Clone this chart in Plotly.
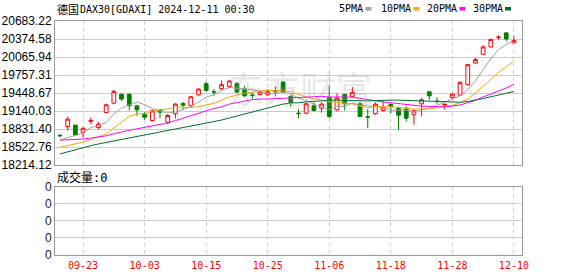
import plotly.graph_objects as go

# ---------------- data ----------------
dates = ["09-18", "09-19", "09-20", "09-23", "09-24", "09-25", "09-26", "09-27", "09-30",
         "10-01", "10-02", "10-03", "10-04", "10-07", "10-08", "10-09", "10-10", "10-11",
         "10-14", "10-15", "10-16", "10-17", "10-18", "10-21", "10-22", "10-23", "10-24",
         "10-25", "10-28", "10-29", "10-30", "10-31", "11-01", "11-04", "11-05", "11-06",
         "11-07", "11-08", "11-11", "11-12", "11-13", "11-14", "11-15", "11-18", "11-19",
         "11-20", "11-21", "11-22", "11-25", "11-26", "11-27", "11-28", "11-29", "12-02",
         "12-03", "12-04", "12-05", "12-06", "12-09", "12-10"]

opens = [18722, 18874, 18897, 18776, 18965, 18857, 19115, 19275, 19424, 19424,
         19229, 19086, 18977, 19149, 18948, 19092, 19269, 19229, 19419, 19608,
         19470, 19522, 19562, 19608, 19516, 19412, 19424, 19418, 19478, 19636,
         19390, 19103, 19103, 19229, 19189, 19373, 19160, 19424, 19390, 19264,
         19040, 19092, 19149, 19252, 19183, 19172, 19074, 19264, 19470, 19309,
         19242, 19373, 19413, 19591, 19963, 20113, 20239, 20400, 20480, 20308]
highs = [18748, 19046, 18905, 18857, 19028, 18954, 19264, 19505, 19447, 19447,
         19246, 19120, 19160, 19160, 19086, 19275, 19293, 19395, 19533, 19648,
         19516, 19665, 19677, 19636, 19573, 19458, 19487, 19516, 19562, 19648,
         19419, 19172, 19287, 19287, 19287, 19573, 19442, 19436, 19550, 19304,
         19172, 19287, 19304, 19275, 19218, 19218, 19172, 19361, 19475, 19378,
         19275, 19447, 19648, 19946, 20049, 20267, 20382, 20439, 20485, 20422]
lows = [18690, 18805, 18722, 18685, 18914, 18828, 19103, 19258, 19315, 19149,
        19057, 18988, 18960, 19017, 18920, 19011, 19160, 19217, 19402, 19476,
        19402, 19493, 19545, 19447, 19378, 19344, 19418, 19401, 19402, 19459,
        19206, 19017, 19086, 19132, 19115, 19017, 19132, 19149, 19378, 19034,
        18845, 19074, 19132, 19103, 18816, 18960, 18903, 19046, 19332, 19264,
        19161, 19350, 19401, 19579, 19952, 20101, 20227, 20365, 20336, 20305]
closes = [18716, 19000, 18730, 18845, 18975, 18914, 19247, 19476, 19344, 19229,
          19160, 19034, 19143, 19120, 19063, 19258, 19240, 19384, 19516, 19493,
          19464, 19591, 19654, 19465, 19401, 19407, 19470, 19470, 19487, 19465,
          19287, 19097, 19264, 19149, 19258, 19046, 19361, 19264, 19459, 19046,
          19034, 19258, 19206, 19218, 19069, 19017, 19143, 19332, 19401, 19304,
          19252, 19430, 19631, 19935, 20021, 20239, 20365, 20406, 20376, 20348]

ma5 = [18644, 18680, 18715, 18760, 18853, 18893, 18942, 19091, 19191, 19242,
       19291, 19249, 19182, 19137, 19104, 19124, 19165, 19213, 19292, 19378,
       19419, 19490, 19544, 19533, 19515, 19504, 19479, 19443, 19447, 19460,
       19436, 19361, 19320, 19252, 19211, 19163, 19216, 19216, 19278, 19235,
       19233, 19212, 19201, 19152, 19157, 19154, 19131, 19156, 19192, 19239,
       19286, 19344, 19404, 19510, 19654, 19851, 20038, 20193, 20281, 20347]
ma10 = [18519, 18545, 18570, 18605, 18650, 18700, 18745, 18850, 18950, 19048,
        19092, 19095, 19137, 19164, 19173, 19207, 19207, 19198, 19215, 19241,
        19272, 19327, 19378, 19413, 19447, 19462, 19485, 19493, 19490, 19487,
        19470, 19420, 19381, 19350, 19335, 19299, 19288, 19268, 19265, 19223,
        19198, 19214, 19208, 19215, 19196, 19193, 19171, 19178, 19172, 19198,
        19220, 19237, 19280, 19351, 19447, 19569, 19691, 19798, 19896, 20000]
ma20 = [18640, 18645, 18652, 18660, 18675, 18690, 18715, 18750, 18785, 18810,
        18835, 18858, 18880, 18905, 18935, 18975, 19020, 19060, 19100, 19144,
        19182, 19211, 19258, 19289, 19310, 19334, 19346, 19345, 19352, 19364,
        19371, 19374, 19380, 19381, 19391, 19380, 19386, 19380, 19378, 19355,
        19334, 19317, 19295, 19282, 19266, 19246, 19230, 19223, 19219, 19211,
        19209, 19226, 19244, 19283, 19321, 19381, 19431, 19488, 19534, 19599]
ma30 = [18404, 18440, 18480, 18519, 18545, 18575, 18600, 18630, 18655, 18680,
        18705, 18730, 18755, 18780, 18800, 18830, 18860, 18885, 18900, 18930,
        18960, 18985, 19020, 19055, 19090, 19120, 19160, 19195, 19230, 19259,
        19278, 19281, 19299, 19309, 19318, 19323, 19327, 19319, 19323, 19317,
        19313, 19320, 19323, 19326, 19326, 19318, 19315, 19313, 19309, 19303,
        19296, 19290, 19290, 19305, 19326, 19354, 19384, 19415, 19444, 19474]

volume = [0] * 60

x_tick_dates = ["09-23", "10-03", "10-15", "10-25", "11-06", "11-18", "11-28", "12-10"]
y_tick_values = [20683.22, 20374.58, 20065.94, 19757.31, 19448.67,
                 19140.03, 18831.40, 18522.76, 18214.12]
y_tick_labels = ["20683.22", "20374.58", "20065.94", "19757.31", "19448.67",
                 "19140.03", "18831.40", "18522.76", "18214.12"]
vol_tick_values = [0, 1, 2, 3, 4]
vol_tick_labels = ["0", "0", "0", "0", "0"]

ma_names = ["5PMA", "10PMA", "20PMA", "30PMA"]
ma_series = [ma5, ma10, ma20, ma30]
ma_colors = ["#a0a0a0", "#f5a800", "#ff00ff", "#00702e"]

title_cn = "德国"
title_rest = "DAX30[GDAXI] 2024-12-11 00:30"
vol_title = "成交量:0"
watermark = "东方财富"

# ---------------- geometry ----------------
W, H = 578, 276
ML, MR, MT, MB = 55, 56, 21, 21
PW = W - ML - MR
PH = H - MT - MB


def px2x(px):
    return (px - ML) / PW


def px2y(py):
    return (H - MB - py) / PH


MONO = "DejaVu Sans Mono, Noto Sans CJK SC"
SANS = "Liberation Sans"

fig = go.Figure()

fig.add_trace(go.Candlestick(
    x=dates, open=opens, high=highs, low=lows, close=closes,
    increasing=dict(line=dict(color="#ff0000", width=1), fillcolor="#ffffff"),
    decreasing=dict(line=dict(color="#008000", width=1), fillcolor="#008000"),
    whiskerwidth=0, xaxis="x", yaxis="y", hoverinfo="skip", showlegend=False,
))

for name, s, c in zip(ma_names, ma_series, ma_colors):
    fig.add_trace(go.Scatter(x=dates, y=s, mode="lines", name=name,
                             line=dict(color=c, width=1), xaxis="x", yaxis="y",
                             hoverinfo="skip", showlegend=False))

fig.add_trace(go.Bar(x=dates, y=volume, xaxis="x2", yaxis="y2",
                     marker_color="#888888", showlegend=False, hoverinfo="skip"))

xr = [-0.65, len(dates) - 1 + 1.05]
axis_common = dict(showline=True, mirror=True, linecolor="#9a9a9a", linewidth=1,
                   zeroline=False, fixedrange=True, automargin=False)

fig.update_layout(
    width=W, height=H,
    margin=dict(l=ML, r=MR, t=MT, b=MB, pad=0, autoexpand=False),
    paper_bgcolor="#ffffff", plot_bgcolor="#ffffff",
    showlegend=False,
    xaxis=dict(type="category", domain=[0, 1], anchor="y", range=xr,
               tickvals=x_tick_dates, showticklabels=False, ticks="",
               showgrid=True, gridcolor="#d2d2d2", griddash="4px,3px", gridwidth=1,
               rangeslider=dict(visible=False), **axis_common),
    yaxis=dict(domain=[px2y(165), 1], anchor="x", range=[y_tick_values[-1], y_tick_values[0]],
               tickvals=y_tick_values, ticktext=y_tick_labels, ticks="",
               ticklabelstandoff=0,
               tickfont=dict(family=SANS, size=12, color="#000000"),
               showgrid=True, gridcolor="#cccccc", gridwidth=1, **axis_common),
    xaxis2=dict(type="category", domain=[0, 1], anchor="y2", range=xr,
                tickvals=x_tick_dates, ticktext=x_tick_dates, ticks="",
                ticklabelstandoff=1,
                tickfont=dict(family=MONO, size=10, color="#ff0000"),
                showgrid=True, gridcolor="#d2d2d2", griddash="4px,3px", gridwidth=1,
                **axis_common),
    yaxis2=dict(domain=[0, px2y(186.7)], anchor="x2", range=[0, 4],
                tickvals=vol_tick_values, ticktext=vol_tick_labels, ticks="",
                ticklabelstandoff=0,
                tickfont=dict(family=SANS, size=12, color="#1a1a2e"),
                showgrid=True, gridcolor="#cccccc", gridwidth=1, **axis_common),
)

annotations = []
shapes = []

# title
annotations.append(dict(text=title_cn, x=px2x(56), y=px2y(9.5), xref="paper", yref="paper",
                        xanchor="left", yanchor="middle", showarrow=False, borderpad=0,
                        font=dict(family="Noto Sans CJK SC", size=11, color="#000000")))
annotations.append(dict(text=title_rest, x=px2x(79), y=px2y(9.5), xref="paper", yref="paper",
                        xanchor="left", yanchor="middle", showarrow=False, borderpad=0,
                        font=dict(family=MONO, size=10, color="#000000")))

# legend
leg_text_x = [338, 380, 425.5, 471.5]
leg_box_x = [365.5, 413.5, 459.5, 505]
for name, c, tx, bx in zip(ma_names, ma_colors, leg_text_x, leg_box_x):
    annotations.append(dict(text=name, x=px2x(tx), y=px2y(8.5), xref="paper", yref="paper",
                            xanchor="left", yanchor="middle", showarrow=False, borderpad=0,
                            font=dict(family=MONO, size=10, color="#000000")))
    shapes.append(dict(type="rect", xref="paper", yref="paper",
                       x0=px2x(bx), x1=px2x(bx + 6), y0=px2y(10.5), y1=px2y(7),
                       fillcolor=c, line=dict(width=0)))

# volume title
annotations.append(dict(text=vol_title, x=px2x(56), y=px2y(177.5), xref="paper", yref="paper",
                        xanchor="left", yanchor="middle", showarrow=False, borderpad=0,
                        font=dict(family=MONO, size=12, color="#000000")))

# watermark
annotations.append(dict(text=watermark, x=px2x(300), y=px2y(87), xref="paper", yref="paper",
                        xanchor="center", yanchor="middle", showarrow=False,
                        font=dict(family="Noto Sans CJK SC", size=36, color="rgba(160,160,160,0.25)")))

fig.update_layout(annotations=annotations, shapes=shapes)

fig.write_html("out.html", config={"displayModeBar": False})
